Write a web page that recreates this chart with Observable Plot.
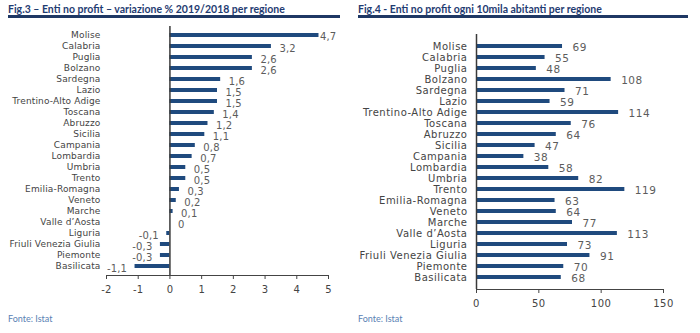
<!DOCTYPE html>
<html>
<head>
<meta charset="utf-8">
<script src="https://cdn.jsdelivr.net/npm/d3@7"></script>
<script src="https://cdn.jsdelivr.net/npm/@observablehq/plot@0.6"></script>
<style>
  html, body { margin: 0; padding: 0; background: #fff; }
  body { width: 700px; height: 333px; position: relative; overflow: hidden; font-family: Lato, "Open Sans", sans-serif; }
  .panel { position: absolute; top: 0; width: 350px; height: 333px; }
  .title { position: absolute; left: 8px; top: 3px; font-weight: 700; font-size: 10.5px; color: #1f3c72; white-space: nowrap; }
  .rule { position: absolute; left: 8px; top: 15px; height: 3px; background: #1f3864; }
  .chart { position: absolute; left: 0; top: 20px; }
  .src { position: absolute; left: 8px; top: 313px; font-size: 9px; color: #5a82b4; }
</style>
</head>
<body>
<div class="panel" id="p3" style="left:0">
  <div class="chart" id="c3"></div>
  <div class="title">Fig.3 – Enti no profit – variazione % 2019/2018 per regione</div>
  <div class="rule" style="width:332px"></div>
  <div class="src">Fonte: Istat</div>
</div>
<div class="panel" id="p4" style="left:350px">
  <div class="chart" id="c4"></div>
  <div class="title">Fig.4 - Enti no profit ogni 10mila abitanti per regione</div>
  <div class="rule" style="width:330px"></div>
  <div class="src">Fonte: Istat</div>
</div>
<script>
const regioni = ["Molise","Calabria","Puglia","Bolzano","Sardegna","Lazio","Trentino-Alto Adige","Toscana","Abruzzo","Sicilia","Campania","Lombardia","Umbria","Trento","Emilia-Romagna","Veneto","Marche","Valle d’Aosta","Liguria","Friuli Venezia Giulia","Piemonte","Basilicata"];
const variazione = [4.7,3.2,2.6,2.6,1.6,1.5,1.5,1.4,1.2,1.1,0.8,0.7,0.5,0.5,0.3,0.2,0.1,0,-0.1,-0.3,-0.3,-1.1];
const entiPer10mila = [69,55,48,108,71,59,114,76,64,47,38,58,82,119,63,64,77,113,73,91,70,68];
const ticksVar = [-2,-1,0,1,2,3,4,5];
const ticksEnti = [0,50,100,150];

const barColor = "#1f4a7e";
const axisColor = "#3a3a3a";
const labelColor = "#5c5c5c";
const fmt = v => String(v).replace(".", ",");

const d3data = regioni.map((r, i) => ({r, v: variazione[i]}));
const d4data = regioni.map((r, i) => ({r, v: entiPer10mila[i]}));

const fig3 = Plot.plot({
  width: 345, height: 290,
  marginTop: 6, marginBottom: 35, marginLeft: 106, marginRight: 17,
  style: {fontFamily: "'DejaVu Sans', sans-serif", fontSize: "9px", letterSpacing: "0.15px", color: "#444", background: "transparent", overflow: "visible"},
  x: {domain: [-2, 5], ticks: ticksVar, tickFormat: d => String(d), tickSize: 4, tickPadding: 6, label: null, line: true},
  y: {domain: regioni, paddingInner: 0.6, paddingOuter: 0.33, tickSize: 0, tickPadding: 6, label: null},
  marks: [
    Plot.barX(d3data, {x: "v", y: "r", fill: barColor}),
    Plot.ruleX([0], {stroke: axisColor, strokeWidth: 1.5}),
    Plot.text(d3data.filter(d => d.v >= 0 && d.v < 4.5), {x: "v", y: "r", text: d => fmt(d.v), textAnchor: "start", dx: 8, dy: 2, fontSize: 10, fill: labelColor}),
    Plot.text(d3data.filter(d => d.v >= 4.5), {x: "v", y: "r", text: d => fmt(d.v), textAnchor: "start", dx: 1, dy: 1, fontSize: 10, fill: labelColor}),
    Plot.text(d3data.filter(d => d.v < 0), {x: "v", y: "r", text: d => fmt(d.v), textAnchor: "end", dx: -8, dy: 2, fontSize: 10, fill: labelColor})
  ]
});
fig3.querySelectorAll('g[aria-label="x-axis tick label"] text, g[aria-label="x-axis"] text').forEach(t => t.setAttribute("font-size", "10"));
document.getElementById("c3").appendChild(fig3);

const fig4 = Plot.plot({
  width: 345, height: 290,
  marginTop: 14, marginBottom: 21, marginLeft: 126, marginRight: 32,
  style: {fontFamily: "'DejaVu Sans', sans-serif", fontSize: "10px", letterSpacing: "0.5px", color: "#444", background: "transparent", overflow: "visible"},
  x: {domain: [0, 150], ticks: ticksEnti, tickFormat: d => String(d), tickSize: 4, tickPadding: 6, label: null, line: true},
  y: {domain: regioni, paddingInner: 0.62, paddingOuter: 0.33, tickSize: 0, tickPadding: 9, label: null},
  marks: [
    Plot.barX(d4data, {x: "v", y: "r", fill: barColor}),
    Plot.ruleX([0], {stroke: axisColor, strokeWidth: 1.5}),
    Plot.text(d4data, {x: "v", y: "r", text: d => fmt(d.v), textAnchor: "start", dx: 10, dy: 1, fontSize: 10.5, fill: labelColor})
  ]
});
document.getElementById("c4").appendChild(fig4);
</script>
</body>
</html>
